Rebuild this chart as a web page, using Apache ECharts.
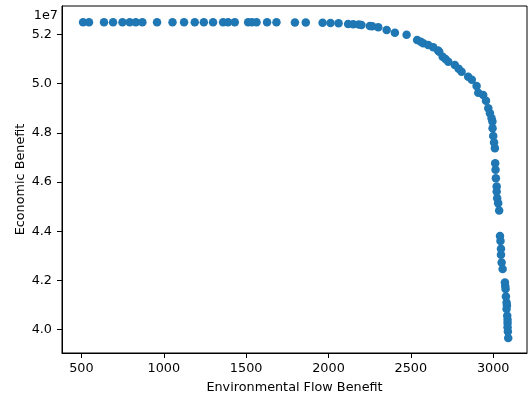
<!DOCTYPE html>
<html>
<head>
<meta charset="utf-8">
<script src="https://cdn.jsdelivr.net/npm/echarts@6/dist/echarts.min.js"></script>
<style>html,body{margin:0;padding:0;background:#fff}#c{width:529px;height:400px}</style>
</head>
<body>
<div id="c"></div>
<script>
const envBenefit = [510,546,637,692,749,793,830,870,959,1053,1123,1188,1243,1299,1360,1390,1431,1512,1535,1563,1627,1684,1796,1862,1964,2012,2061,2119,2150,2184,2200,2251,2265,2302,2353,2403,2474,2538,2560,2575,2605,2636,2665,2672,2693,2710,2727,2767,2790,2808,2848,2870,2899,2909,2939,2956,2970,2980,2990,2995,2996,3000,3005,3010,3012,3014,3016,3021,3021,3024,3030,3036,3041,3044,3047,3047,3051,3057,3071,3073,3075,3077,3081,3083,3081,3085,3087,3087,3087,3089,3091];
const econBenefit = [5.2487e7,5.2487e7,5.2487e7,5.2487e7,5.2487e7,5.2487e7,5.2487e7,5.2487e7,5.2487e7,5.2487e7,5.2487e7,5.2487e7,5.2487e7,5.2487e7,5.2487e7,5.2487e7,5.2487e7,5.2487e7,5.2487e7,5.2487e7,5.2487e7,5.2487e7,5.2480e7,5.2478e7,5.2471e7,5.2460e7,5.2446e7,5.2418e7,5.2410e7,5.2395e7,5.2380e7,5.2337e7,5.2330e7,5.2284e7,5.2175e7,5.2065e7,5.1984e7,5.1769e7,5.1700e7,5.1635e7,5.1566e7,5.1472e7,5.1340e7,5.1294e7,5.1091e7,5.1000e7,5.0888e7,5.0754e7,5.0600e7,5.0482e7,5.0279e7,5.0150e7,4.9902e7,4.9630e7,4.9537e7,4.9305e7,4.8997e7,4.8794e7,4.8591e7,4.8453e7,4.8185e7,4.7873e7,4.7600e7,4.7373e7,4.6765e7,4.6500e7,4.6156e7,4.5815e7,4.5612e7,4.5344e7,4.5141e7,4.4841e7,4.3802e7,4.3600e7,4.3287e7,4.3044e7,4.2731e7,4.2463e7,4.1919e7,4.1780e7,4.1651e7,4.1351e7,4.1107e7,4.0980e7,4.0839e7,4.0567e7,4.0400e7,4.0271e7,4.0100e7,3.9930e7,3.9662e7];
const xTicks = [500,1000,1500,2000,2500,3000];
const yTicks = [4.0e7,4.2e7,4.4e7,4.6e7,4.8e7,5.0e7,5.2e7];

const points = envBenefit.map((x, i) => [x, econBenefit[i]]);
const chart = echarts.init(document.getElementById('c'), null, {renderer: 'canvas'});
const font = 'DejaVu Sans';
const fs = 12.8;
chart.setOption({
  animation: false,
  grid: {left: 62, right: 2, top: 6, bottom: 47, show: true, borderColor: '#000', borderWidth: 1, backgroundColor: 'transparent'},
  xAxis: {
    type: 'value', min: 382, max: 3205,
    name: 'Environmental Flow Benefit', nameLocation: 'middle', nameGap: 28, nameMoveOverlap: false,
    nameTextStyle: {fontFamily: font, fontSize: fs, color: '#000'},
    axisLine: {show: true, lineStyle: {color: '#000', width: 1}},
    axisTick: {show: true, customValues: xTicks, length: 5, lineStyle: {color: '#000'}},
    axisLabel: {customValues: xTicks, fontFamily: font, fontSize: fs, color: '#000', margin: 9,
      formatter: v => String(Math.round(v))},
    splitLine: {show: false}
  },
  yAxis: {
    type: 'value', min: 3.9054e7, max: 5.3149e7,
    name: 'Economic Benefit', nameLocation: 'middle', nameGap: 35, nameMoveOverlap: false,
    nameTextStyle: {fontFamily: font, fontSize: fs, color: '#000'},
    axisLine: {show: true, lineStyle: {color: '#000', width: 1}},
    axisTick: {show: true, customValues: yTicks, length: 5, lineStyle: {color: '#000'}},
    axisLabel: {customValues: yTicks, fontFamily: font, fontSize: fs, color: '#000', margin: 10,
      formatter: v => (v / 1e7).toFixed(1)},
    splitLine: {show: false}
  },
  graphic: [{type: 'text', right: 529 - 58, top: 9, style: {text: '1e7', font: fs + 'px "DejaVu Sans"', fill: '#000', textAlign: 'right'}}],
  series: [{
    type: 'scatter', data: points, symbolSize: 8.5,
    itemStyle: {color: '#1f77b4', opacity: 1}
  }]
});
</script>
</body>
</html>
